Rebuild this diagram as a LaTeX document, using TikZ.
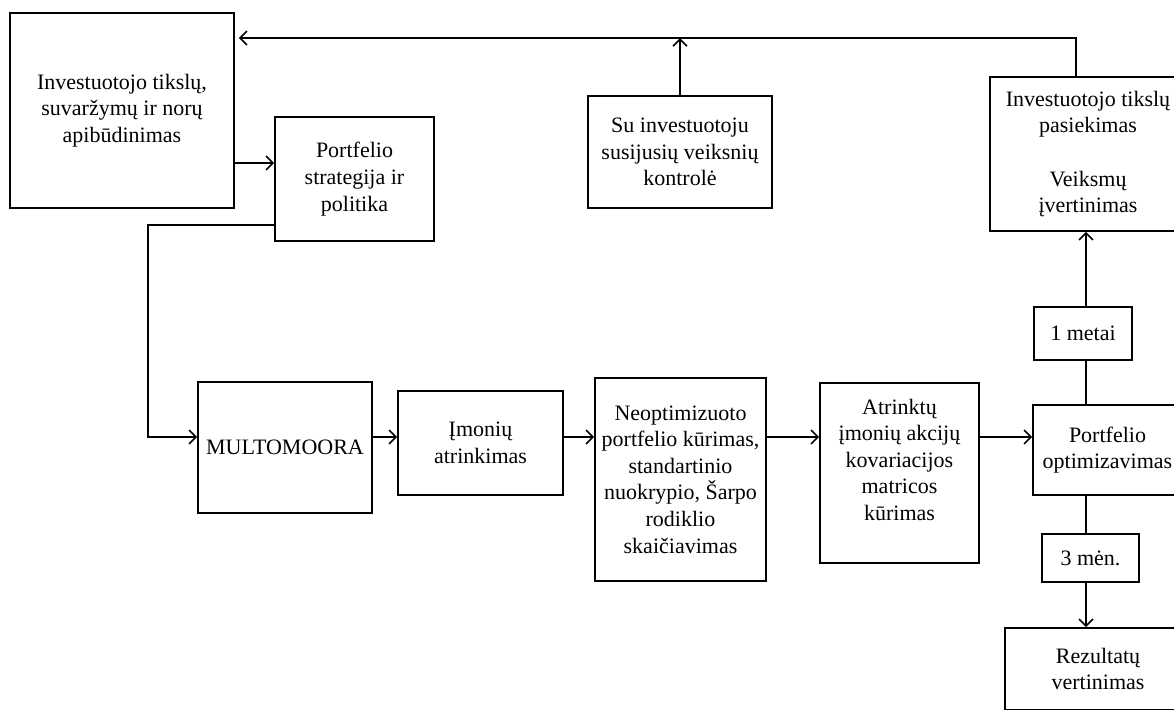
\documentclass[tikz,border=0pt]{standalone}
\usepackage{fontspec}
\setmainfont{Liberation Serif}
\usetikzlibrary{arrows.meta}

\begin{document}
\begin{tikzpicture}[x=0.5pt, y=-0.5pt,
  box/.style={draw, line width=0.8pt, align=center, inner sep=2pt,
              font=\fontsize{11}{13.3}\selectfont},
  arr/.style={line width=0.8pt, -{Straight Barb[length=3.5pt,width=7pt]}},
  ln/.style={line width=0.8pt}
]
\clip (0,0) rectangle (1174,709);

% upper part
\node[box, minimum width=112pt, minimum height=97.5pt] (goal) at (122,110.5)
    {Investuotojo tikslų,\\suvaržymų ir norų\\apibūdinimas};
\node[box, minimum width=79.5pt, minimum height=62pt] (strat) at (354.5,179)
    {Portfelio\\strategija ir\\politika};
\node[box, minimum width=92pt, minimum height=56pt] (ctrl) at (680,152)
    {Su investuotoju\\susijusių veiksnių\\kontrolė};
\node[box, minimum width=98pt, minimum height=77pt] (ach) at (1088,154)
    {Investuotojo tikslų\\pasiekimas\\[13.3pt]Veiksmų\\įvertinimas};

% main row
\node[box, minimum width=87pt, minimum height=65.5pt] (multo) at (285,447.5)
    {MULTOMOORA};
\node[box, minimum width=82.5pt, minimum height=52pt] (firms) at (480.5,443)
    {Įmonių\\atrinkimas};
\node[box, minimum width=85.5pt, minimum height=101.5pt] (neopt) at (680.5,479.5)
    {Neoptimizuoto\\portfelio kūrimas,\\standartinio\\nuokrypio, Šarpo\\rodiklio\\skaičiavimas};
\node[box, minimum width=79.5pt, minimum height=90pt] (atr) at (899.5,473)
    {Atrinktų\\įmonių akcijų\\kovariacijos\\matricos\\kūrimas\\\mbox{}};
\node[box, minimum width=74.5pt, minimum height=45pt] (opt) at (1107.5,450)
    {Portfelio\\optimizavimas};

% periods
\node[box, minimum width=49pt, minimum height=26.5pt] (one) at (1083,333.5) {1 metai};
\node[box, minimum width=48.5pt, minimum height=24pt] (three) at (1090.5,558) {3 mėn.};
\node[box, minimum width=93pt, minimum height=41pt] (rez) at (1098,669)
    {Rezultatų\\vertinimas};

% connectors
\draw[arr] (goal.east |- 0,163) -- (strat.west |- 0,163);
\draw[arr] (strat.west |- 0,225) -- (148,225) |- (multo.west |- 0,437);
\foreach \a/\b in {multo/firms, firms/neopt, neopt/atr, atr/opt}
  \draw[arr] (\a.east |- 0,437) -- (\b.west |- 0,437);

\draw[ln]  (opt.north -| 1086,0) -- (one.south -| 1086,0);
\draw[arr] (one.north -| 1086,0) -- (ach.south -| 1086,0);
\draw[ln]  (opt.south -| 1086,0) -- (three.north -| 1086,0);
\draw[arr] (three.south -| 1086,0) -- (rez.north -| 1086,0);

\draw[arr, shorten >=2pt] (ach.north -| 1076,0) |- (goal.east |- 0,38);
\draw[arr] (ctrl.north) -- (ctrl.north |- 0,38);
\end{tikzpicture}
\end{document}
